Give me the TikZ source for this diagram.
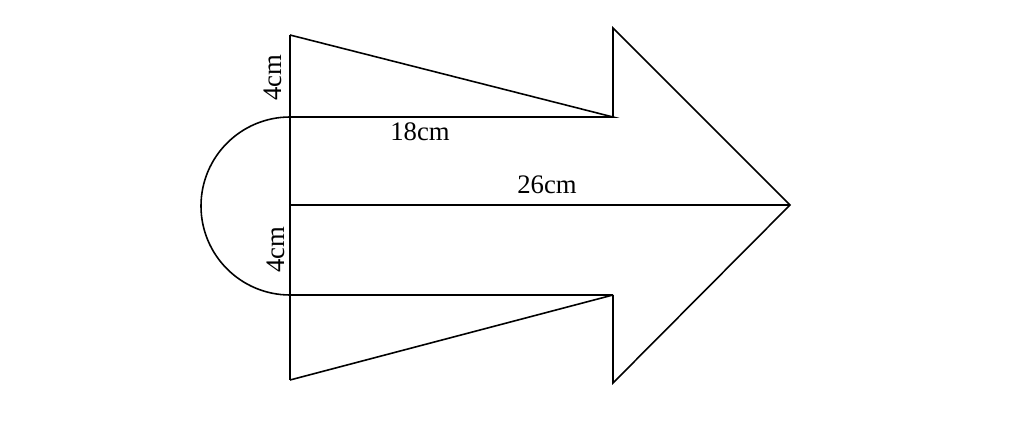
\documentclass[tikz,border=0pt]{standalone}
\usepackage{fontspec}
\setmainfont{Liberation Serif}
\usetikzlibrary{positioning}

\begin{document}
\begin{tikzpicture}[line width=0.45pt, lbl/.style={font=\fontsize{7.6}{9}\selectfont, inner sep=1pt}]
        \useasboundingbox (0,0) rectangle (10.24,4.27);

        \coordinate (A) at (2.90, 3.92);
        \coordinate (B) at (2.90, 3.10);
        \coordinate (C) at (6.13, 3.10);
        \coordinate (D) at (6.13, 3.99);
        \coordinate (T) at (7.90, 2.22);
        \coordinate (O) at (2.90, 2.22);
        \coordinate (F) at (6.13, 0.44);
        \coordinate (E) at (6.13, 1.32);
        \coordinate (G) at (2.90, 1.32);
        \coordinate (H) at (2.90, 0.47);

        % arrow outline
        \draw (C) -- (D) -- (T) -- (F) -- (E);
        % triangles
        \draw (A) -- (C) -- (B);
        \draw (H) -- (E);
        \draw[line width=0.8pt] (G) -- (E);
        \draw (A) -- (H);
        \draw (O) -- (T);
        % half circle
        \draw (B) arc[start angle=90, end angle=270, radius=0.89];

        \node[lbl, rotate=90] (a) at (2.73, 3.49) {4cm};
        \node[lbl, rotate=90] (b) at (2.76, 1.77) {4cm};
        \node[lbl] (c) at (4.20, 2.95) {18cm};
        \node[lbl] (d) at (5.47, 2.42) {26cm};
      \end{tikzpicture}
\end{document}
